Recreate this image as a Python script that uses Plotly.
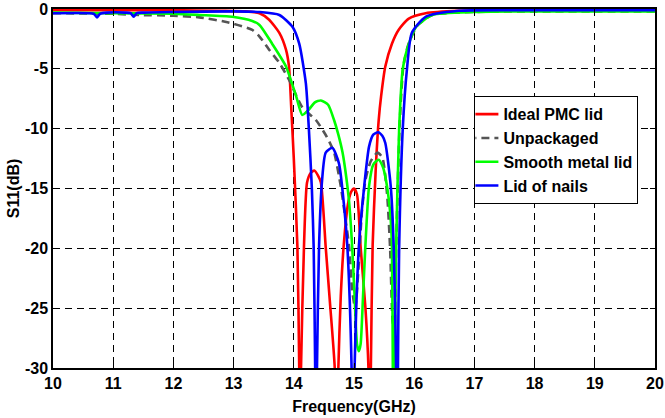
'''
    S11 versus frequency for the four packaging cases.
'''
import plotly.graph_objects as go

# Ideal PMC lid
red_f = [10, 11, 12, 12.8, 13.2, 13.43, 13.59, 13.76, 13.87, 13.92, 13.96, 14.0, 14.06,
         14.09, 14.105, 14.12, 14.17, 14.22, 14.28, 14.34, 14.4, 14.45, 14.53, 14.6,
         14.68, 14.71, 14.74, 14.78, 14.83, 14.9, 14.95, 15.0, 15.05, 15.11, 15.19,
         15.24, 15.26, 15.28, 15.31, 15.36, 15.41, 15.45, 15.52, 15.63, 15.74, 15.91,
         16.19, 16.74, 18, 20]
red_db = [-0.1, -0.1, -0.1, -0.15, -0.2, -0.36, -0.9, -2.0, -3.4, -4.8, -8.5, -12.5, -19.9,
          -30, -40, -30, -19.7, -14.5, -13.7, -13.5, -13.9, -14.5, -19.9, -24.5,
          -30, -40, -30, -24, -19.7, -16.3, -15.3, -15.0, -15.5, -19.9, -25,
          -30, -40, -30, -19.7, -13.5, -9.3, -7.3, -4.8, -2.9, -1.75, -0.8,
          -0.35, -0.15, -0.1, -0.05]

# Unpackaged
gray_f = [10, 11, 11.44, 12, 12.43, 12.93, 13.31, 13.43, 13.59, 13.76, 13.92, 14.14, 14.37,
          14.55, 14.67, 14.78, 14.86, 14.92, 14.97, 15.02, 15.07, 15.13, 15.19, 15.28,
          15.39, 15.47, 15.55, 15.6, 15.64, 15.67, 15.7, 15.76, 15.82, 15.9, 16.05, 16.3,
          17, 18, 20]
gray_db = [-0.35, -0.4, -0.5, -0.56, -0.7, -1.14, -1.75, -2.3, -3.4, -4.5, -5.9, -8.2, -9.3,
           -10.7, -12, -14.8, -17.6, -19.9, -23.5, -25, -22, -17, -14.3, -12.7,
           -12, -12.4, -15.5, -20, -26, -27, -20, -9.5, -4.8, -3, -1.4, -0.5,
           -0.25, -0.2, -0.2]

# Smooth metal lid
green_f = [10, 11, 12, 12.43, 12.98, 13.31, 13.43, 13.64, 13.87, 14.04, 14.14, 14.25, 14.35,
           14.45, 14.57, 14.67, 14.74, 14.81, 14.87, 14.92, 14.97, 15.01, 15.05, 15.08,
           15.11, 15.15, 15.19, 15.25, 15.32, 15.41, 15.48, 15.52, 15.58, 15.61, 15.63,
           15.645, 15.66, 15.675, 15.7, 15.75, 15.81, 15.88, 16.03, 16.3, 17, 18, 20]
green_db = [-0.3, -0.35, -0.4, -0.5, -0.65, -1.0, -1.33, -2.9, -4.8, -7.3, -8.85, -8.4, -7.8,
            -7.65, -8.0, -9.3, -10.5, -12, -14, -16.2, -19.9, -24, -28, -28.6,
            -28, -24, -19.7, -14.8, -13, -12.6, -13.2, -14, -16, -17.6, -19.9,
            -30, -40, -30, -19.9, -10, -5, -3.4, -1.5, -0.5, -0.25, -0.2, -0.2]

# Lid of nails
blue_f = [10, 10.6, 10.68, 10.73, 10.78, 10.9, 11.2, 11.29, 11.34, 11.39, 11.5, 12, 13,
          13.43, 13.76, 13.98, 14.09, 14.2, 14.25, 14.3, 14.33, 14.355, 14.37, 14.385,
          14.42, 14.47, 14.53, 14.64, 14.75, 14.83, 14.89, 14.96, 14.98, 15.01, 15.08,
          15.17, 15.25, 15.32, 15.4, 15.47, 15.52, 15.61, 15.66, 15.7, 15.715, 15.73,
          15.75, 15.81, 15.88, 15.96, 16.19, 16.74, 18, 20]
blue_db = [-0.35, -0.35, -0.4, -0.7, -0.4, -0.3, -0.3, -0.35, -0.65, -0.35, -0.3, -0.25, -0.2,
           -0.25, -0.5, -1.5, -2.9, -6.2, -10, -15, -19.9, -30, -40, -30,
           -19.7, -14.3, -12, -11.6, -12.9, -16.2, -19.9, -30, -40, -30, -19.9,
           -14.8, -11.5, -10.5, -10.3, -10.6, -11.2, -14.8, -19.9, -30, -40, -30,
           -19.9, -10, -5, -2.0, -0.65, -0.15, -0.1, -0.1]

x_ticks = list(range(10, 21))
y_ticks = [0, -5, -10, -15, -20, -25, -30]

FONT = 'Liberation Sans, Arial, sans-serif'

series = [
    ('Ideal PMC lid', red_f, red_db, '#ff0000', 'solid'),
    ('Unpackaged', gray_f, gray_db, '#555555', '8px,5px'),
    ('Smooth metal lid', green_f, green_db, '#00ff00', 'solid'),
    ('Lid of nails', blue_f, blue_db, '#0000ff', 'solid'),
]

fig = go.Figure()
for name, f, db, color, dash in series:
    fig.add_trace(go.Scatter(
        x=f, y=db, name=name, mode='lines',
        line=dict(color=color, width=2.6, dash=dash, shape='spline', smoothing=0.6),
    ))

axis_style = dict(
    showline=True, linecolor='black', linewidth=1.5, mirror='ticks',
    ticks='inside', ticklen=5, tickcolor='black', tickwidth=1,
    showgrid=True, gridcolor='black', gridwidth=1, griddash='7px,5px',
    zeroline=False, automargin=False, ticklabeloverflow='allow',
    tickfont=dict(size=16, family=FONT, color='black', weight='bold'),
)

fig.update_xaxes(
    range=[10, 20], tickvals=x_ticks, ticktext=[str(v) for v in x_ticks],
    title=dict(text='Frequency(GHz)', standoff=10,
               font=dict(size=16, family=FONT, color='black', weight='bold')),
    **axis_style
)
fig.update_yaxes(
    range=[-30, 0], tickvals=y_ticks, ticktext=[str(v) for v in y_ticks],
    title=dict(text='S11(dB)', standoff=1,
               font=dict(size=16, family=FONT, color='black', weight='bold')),
    **axis_style
)

fig.update_layout(
    width=665, height=418,
    margin=dict(l=53, r=10, t=9, b=50),
    plot_bgcolor='white', paper_bgcolor='white',
    font=dict(family=FONT, color='black'),
    legend=dict(
        x=0.70, y=0.757, xanchor='left', yanchor='top',
        bgcolor='white', bordercolor='black', borderwidth=1,
        font=dict(size=16, family=FONT, color='black', weight='bold'),
        itemwidth=30, tracegroupgap=0, indentation=-12,
    ),
    showlegend=True,
)

# page body has a default 8px margin, drop it so the figure sits at the corner
fig.write_html("out.html", config={'displayModeBar': False},
               post_script="document.body.style.margin='0';")
